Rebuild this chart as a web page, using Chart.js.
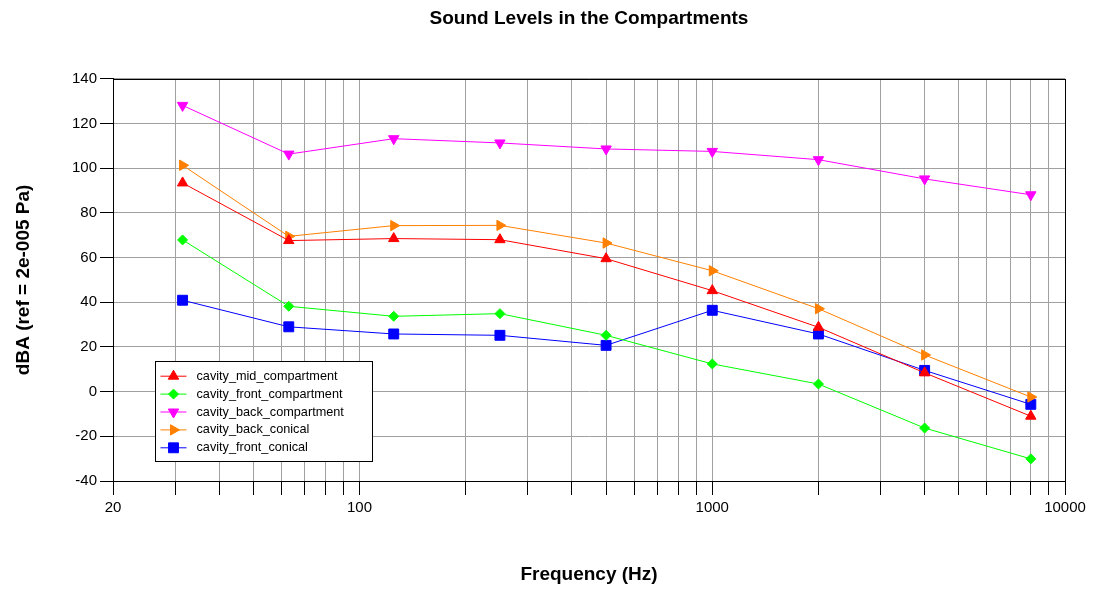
<!DOCTYPE html>
<html>
<head>
<meta charset="utf-8">
<script src="https://cdn.jsdelivr.net/npm/chart.js@4.4.1/dist/chart.umd.min.js"></script>
<style>
    body { margin: 0; background: #fff; }
</style>
</head>
<body>
<canvas id="soundChart" width="1093" height="590"></canvas>
<script>
const frequencies = [31.5, 63, 125, 250, 500, 1000, 2000, 4000, 8000];

const midCompartment   = [93.4, 67.6, 68.5, 68.0, 59.5, 45.2, 28.8, 8.4, -11.0];
const frontCompartment = [67.9, 38.2, 33.7, 34.9, 25.2, 12.4, 3.4, -16.3, -30.1];
const backCompartment  = [128.1, 106.3, 113.2, 111.3, 108.6, 107.5, 103.8, 95.2, 88.1];
const backConical      = [101.3, 69.5, 74.3, 74.4, 66.5, 54.1, 37.1, 16.4, -2.4];
const frontConical     = [40.9, 29.0, 25.8, 25.2, 20.7, 36.4, 25.8, 9.5, -5.7];

const xTicks = [20, 30, 40, 50, 60, 70, 80, 90,
    100, 200, 300, 400, 500, 600, 700, 800, 900,
    1000, 2000, 3000, 4000, 5000, 6000, 7000, 8000, 9000, 10000];
const xTickLabels = [20, 100, 1000, 10000];

function points(values) {
    return frequencies.map((f, i) => ({ x: f, y: values[i] }));
}

function series(label, values, color, style, rotation, radius) {
    return {
        label: label,
        data: points(values),
        borderColor: color,
        backgroundColor: color,
        borderWidth: 1,
        pointStyle: style,
        pointRotation: rotation,
        pointRadius: radius,
        pointBackgroundColor: color,
        pointBorderColor: color,
        pointBorderWidth: 1,
    };
}

// black frame round the plot area + legend box inside the plot
const frameAndLegend = {
    id: 'frameAndLegend',
    afterDraw(chart) {
        const ctx = chart.ctx;
        const area = chart.chartArea;
        ctx.save();
        ctx.strokeStyle = '#000';
        ctx.lineWidth = 1;
        ctx.strokeRect(Math.round(area.left) + 0.5, Math.round(area.top) + 0.5,
            Math.round(area.width), Math.round(area.height));

        const sets = chart.data.datasets;
        const rowH = 17.9;
        ctx.font = '12.7px Arial, "Liberation Sans", sans-serif';
        let maxW = 0;
        sets.forEach(ds => { maxW = Math.max(maxW, ctx.measureText(ds.label).width); });
        const boxW = 41 + maxW + 29;
        const boxH = 14.7 + rowH * (sets.length - 1) + 13.3;
        const left = Math.round(area.left + 42) + 0.5;
        const top = Math.round(area.bottom - 20 - boxH) + 0.5;
        ctx.fillStyle = '#fff';
        ctx.fillRect(left, top, Math.round(boxW), Math.round(boxH));
        ctx.strokeRect(left, top, Math.round(boxW), Math.round(boxH));

        sets.forEach((ds, i) => {
            const y = top + 14.7 + i * rowH;
            ctx.strokeStyle = ds.borderColor;
            ctx.lineWidth = 1;
            ctx.beginPath();
            ctx.moveTo(left + 5, y);
            ctx.lineTo(left + 31, y);
            ctx.stroke();
            ctx.fillStyle = ds.pointBackgroundColor;
            ctx.strokeStyle = ds.pointBorderColor;
            Chart.helpers.drawPoint(ctx, {
                pointStyle: ds.pointStyle,
                rotation: ds.pointRotation,
                radius: ds.pointRadius,
                borderWidth: 1,
            }, left + 18, y);
            ctx.fillStyle = '#000';
            ctx.textBaseline = 'middle';
            ctx.textAlign = 'left';
            ctx.fillText(ds.label, left + 41, y);
        });
        ctx.restore();
    },
};

new Chart(document.getElementById('soundChart'), {
    type: 'line',
    data: {
        datasets: [
            series('cavity_mid_compartment', midCompartment, '#ff0000', 'triangle', 0, 6),
            series('cavity_front_compartment', frontCompartment, '#00ff00', 'rectRot', 0, 5),
            series('cavity_back_compartment', backCompartment, '#ff00ff', 'triangle', 180, 6),
            series('cavity_back_conical', backConical, '#ff8000', 'triangle', 90, 6),
            series('cavity_front_conical', frontConical, '#0000ff', 'rect', 0, 7),
        ],
    },
    plugins: [frameAndLegend],
    options: {
        responsive: false,
        animation: false,
        layout: {
            padding: { left: 0, right: 28, top: 0, bottom: 0 },
        },
        plugins: {
            legend: { display: false },
            tooltip: { enabled: false },
            title: {
                display: true,
                fullSize: false,
                text: 'Sound Levels in the Compartments',
                color: '#000',
                font: { family: 'Arial, "Liberation Sans", sans-serif', size: 19, weight: 'bold' },
                padding: { top: 7, bottom: 49 },
            },
        },
        scales: {
            x: {
                type: 'logarithmic',
                min: 20,
                max: 10000,
                afterBuildTicks: (scale) => {
                    scale.ticks = xTicks.map(v => ({ value: v }));
                },
                afterFit: (scale) => { scale.height = 109; },
                ticks: {
                    autoSkip: false,
                    maxRotation: 0,
                    padding: 4,
                    color: '#000',
                    font: { family: 'Arial, "Liberation Sans", sans-serif', size: 15 },
                    callback: (value) => xTickLabels.includes(value) ? String(value) : '',
                },
                grid: {
                    color: '#a0a0a0',
                    lineWidth: 1,
                    tickColor: '#000',
                    tickLength: 14,
                },
                border: { color: '#000', width: 1 },
                title: {
                    display: true,
                    text: 'Frequency (Hz)',
                    color: '#000',
                    font: { family: 'Arial, "Liberation Sans", sans-serif', size: 19, weight: 'bold' },
                    padding: { top: 0, bottom: 4 },
                },
            },
            y: {
                min: -40,
                max: 140,
                afterFit: (scale) => { scale.width = 113; },
                ticks: {
                    stepSize: 20,
                    padding: 3,
                    color: '#000',
                    font: { family: 'Arial, "Liberation Sans", sans-serif', size: 15 },
                },
                grid: {
                    color: '#a0a0a0',
                    lineWidth: 1,
                    tickColor: '#000',
                    tickLength: 13,
                },
                border: { color: '#000', width: 1 },
                title: {
                    display: true,
                    text: 'dBA (ref = 2e-005 Pa)',
                    color: '#000',
                    font: { family: 'Arial, "Liberation Sans", sans-serif', size: 19, weight: 'bold' },
                    padding: { top: 12, bottom: 0 },
                },
            },
        },
    },
});
</script>
</body>
</html>
